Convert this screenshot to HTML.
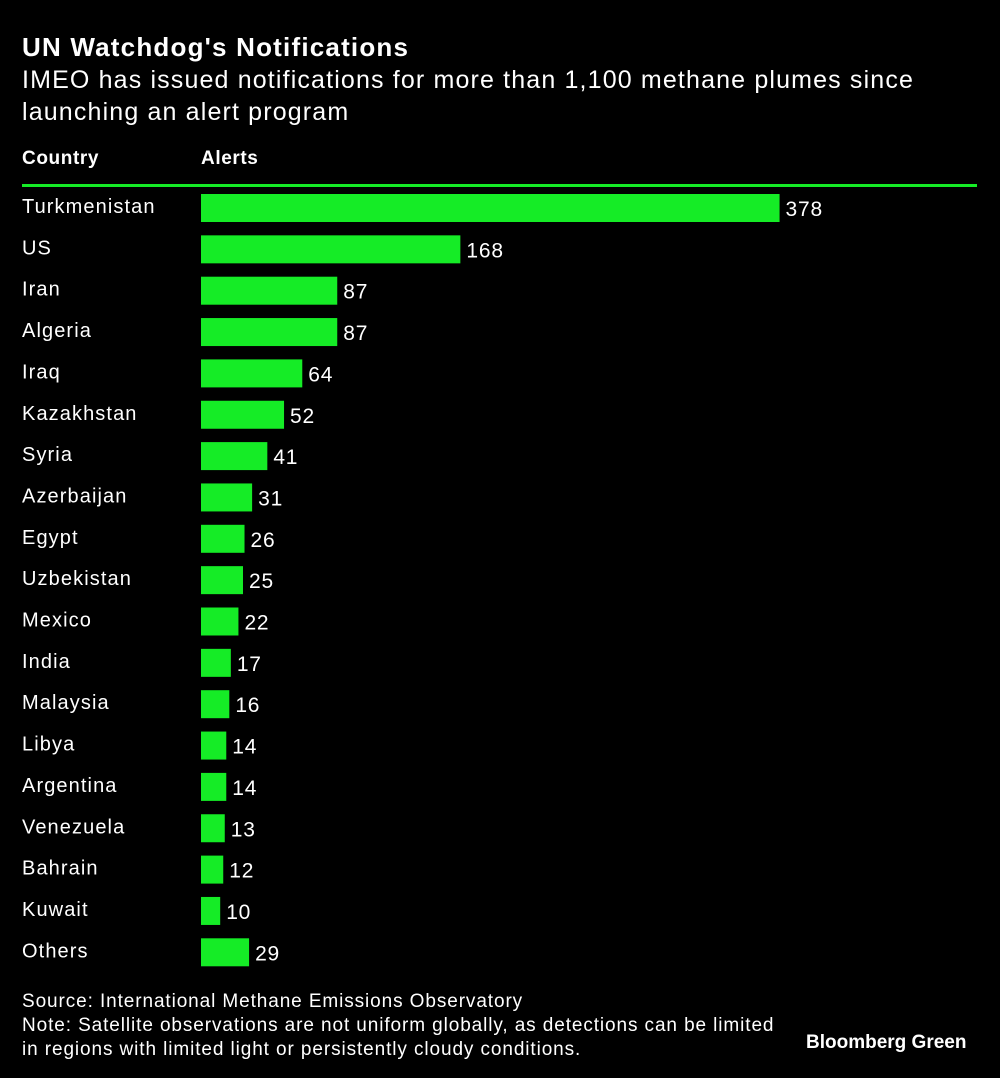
<!DOCTYPE html>
<html><head><meta charset="utf-8"><style>
body{margin:0;background:#000;width:1000px;height:1078px;overflow:hidden;font-family:"Liberation Sans",sans-serif;color:#fff;position:relative}
.a{position:absolute;white-space:nowrap}
</style></head><body>
<div class="a" style="left:22px;top:32px;font-size:26px;font-weight:bold;letter-spacing:1.2px">UN Watchdog's Notifications</div>
<div class="a" style="left:22px;top:64px;font-size:25px;line-height:32px;letter-spacing:1.15px">IMEO has issued notifications for more than 1,100 methane plumes since<br>launching an alert program</div>
<div class="a" style="left:22px;top:148px;font-size:19px;font-weight:bold;letter-spacing:0.6px">Country</div>
<div class="a" style="left:201px;top:148px;font-size:19px;font-weight:bold;letter-spacing:0.6px">Alerts</div>
<div class="a" style="left:22px;top:184px;width:955px;height:3px;background:#15ec26"></div>
<svg class="a" style="left:0;top:0" width="1000" height="1078" id="chart"></svg>
<div class="a" style="left:22px;top:990px;font-size:19px;line-height:24px;letter-spacing:0.9px">Source: International Methane Emissions Observatory<br>Note: Satellite observations are not uniform globally, as detections can be limited<br>in regions with limited light or persistently cloudy conditions.</div>
<div class="a" style="left:806px;top:1032px;font-size:19px;font-weight:bold">Bloomberg Green</div>
<script>
const categories=["Turkmenistan","US","Iran","Algeria","Iraq","Kazakhstan","Syria","Azerbaijan","Egypt","Uzbekistan","Mexico","India","Malaysia","Libya","Argentina","Venezuela","Bahrain","Kuwait","Others"];
const values=[378,168,87,87,64,52,41,31,26,25,22,17,16,14,14,13,12,10,29];
const svg=document.getElementById('chart');
const NS='http://www.w3.org/2000/svg';
const x=v=>v*1.52+4;
const y=i=>208+i*41.35;
categories.forEach((c,i)=>{
  const r=document.createElementNS(NS,'rect');
  r.setAttribute('x',201);r.setAttribute('y',y(i)-14);
  r.setAttribute('width',x(values[i]));r.setAttribute('height',28);
  r.setAttribute('fill','#15ec26');
  
  
  svg.appendChild(r);
  const t=document.createElementNS(NS,'text');
  t.setAttribute('x',22);t.setAttribute('y',y(i)+5);
  t.setAttribute('fill','#fff');t.setAttribute('font-size','20');
  t.setAttribute('letter-spacing','1.1');
  t.setAttribute('font-family','Liberation Sans, sans-serif');
  t.textContent=c;
  
  
  svg.appendChild(t);
  const v=document.createElementNS(NS,'text');
  v.setAttribute('x',201+x(values[i])+6);v.setAttribute('y',y(i)+8);
  v.setAttribute('fill','#fff');v.setAttribute('font-size','21');
  v.setAttribute('letter-spacing','0.8');
  v.setAttribute('font-family','Liberation Sans, sans-serif');
  v.textContent=values[i];
  
  
  svg.appendChild(v);
});
</script>
</body></html>
